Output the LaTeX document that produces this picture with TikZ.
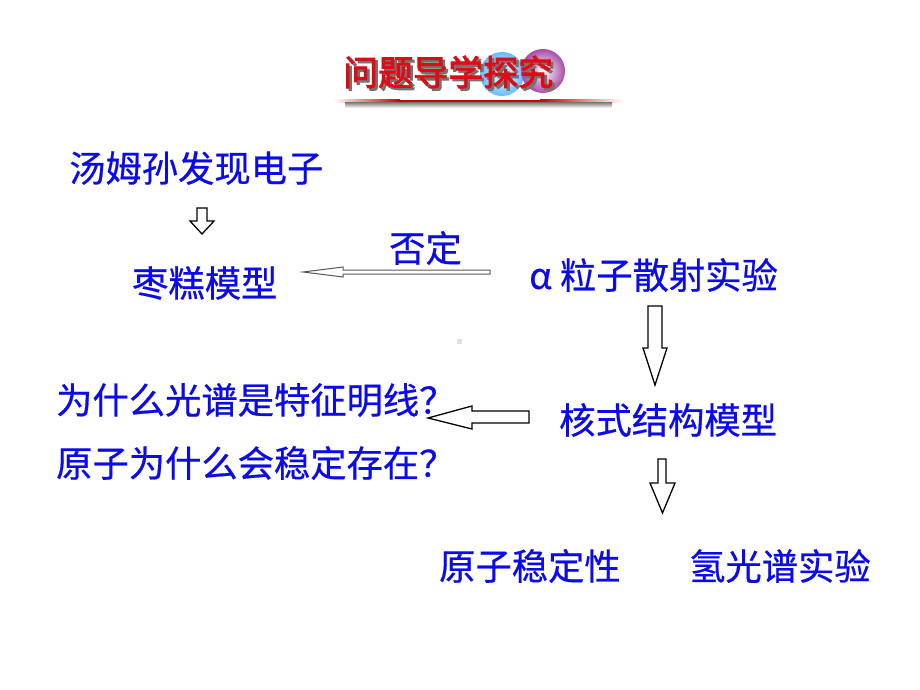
\documentclass[tikz,border=0pt]{standalone}
\usepackage{fontspec}
\newfontfamily\cjk[FakeBold=0.6]{Noto Sans CJK SC}
\newfontfamily\cjkbold[FakeBold=2.5]{Noto Sans CJK SC}
\definecolor{txtblue}{RGB}{10,10,235}
\definecolor{hdred}{RGB}{225,10,20}
\begin{document}
\begin{tikzpicture}[x=1pt,y=-1pt,
  body/.style={font=\cjk\fontsize{36.3}{36}\selectfont, text=txtblue, inner sep=0pt, anchor=west},
  hdr/.style={font=\cjkbold\fontsize{35}{35}\selectfont, inner sep=0pt, anchor=west},
  blockarrow/.style={draw=black, line width=1.3pt, fill=white, line join=miter},
  thinarrow/.style={draw=black!65, line width=1pt, fill=white}]
\useasboundingbox (0,0) rectangle (920,690);
\fill[white] (0,0) rectangle (920,690);
% header
\shade[inner color=white, outer color=cyan!55!blue!60] (502,74) circle (22);
\shade[inner color=white, outer color=violet!70] (543,71) circle (22);
\node[hdr, text=black!55] (hdrshadow) at (345.5,74.5) {问题导学探究};
\node[hdr, text=hdred] (hdr) at (343,72) {问题导学探究};
\shade[left color=white, right color=red!80!black] (333,100) rectangle (400,103);
\fill[red!80!black] (400,100) rectangle (540,103);
\shade[left color=red!80!black, right color=white] (540,100) rectangle (623,103);
\shade[top color=black!45, bottom color=white] (345,103) rectangle (612,108);
% speck
\fill[black!12] (457,339) rectangle (462,344);
% texts
\node[body] (tms) at (69,168) {汤姆孙发现电子};
\node[body] (zg) at (132,283) {枣糕模型};
\node[body] (fd) at (389,248) {否定};
\node[body] (alpha) at (529,275) {α 粒子散射实验};
\node[body] (q1) at (56,400) {为什么光谱是特征明线？};
\node[body] (q2) at (56,463) {原子为什么会稳定存在？};
\node[body] (hs) at (559,420) {核式结构模型};
\node[body] (wd) at (439,566) {原子稳定性};
\node[body] (qg) at (689,566) {氢光谱实验};
% arrows
\draw[blockarrow] (197,208) -- (207,208) -- (207,221) -- (214,221) -- (202,234) -- (190,221) -- (197,221) -- cycle;
\draw[thinarrow] (490,270) -- (490,274) -- (343,274) -- (343,277) -- (303,272) -- (343,267) -- (343,270) -- cycle;
\draw[blockarrow] (648,306) -- (662,306) -- (662,348) -- (667,348) -- (655,385) -- (643,348) -- (648,348) -- cycle;
\draw[blockarrow] (529,411) -- (529,423) -- (472,423) -- (472,429) -- (428,418) -- (472,406) -- (472,411) -- cycle;
\draw[blockarrow] (658,459) -- (666,459) -- (666,483) -- (675,483) -- (662.5,513) -- (650,483) -- (658,483) -- cycle;
\end{tikzpicture}
\end{document}
